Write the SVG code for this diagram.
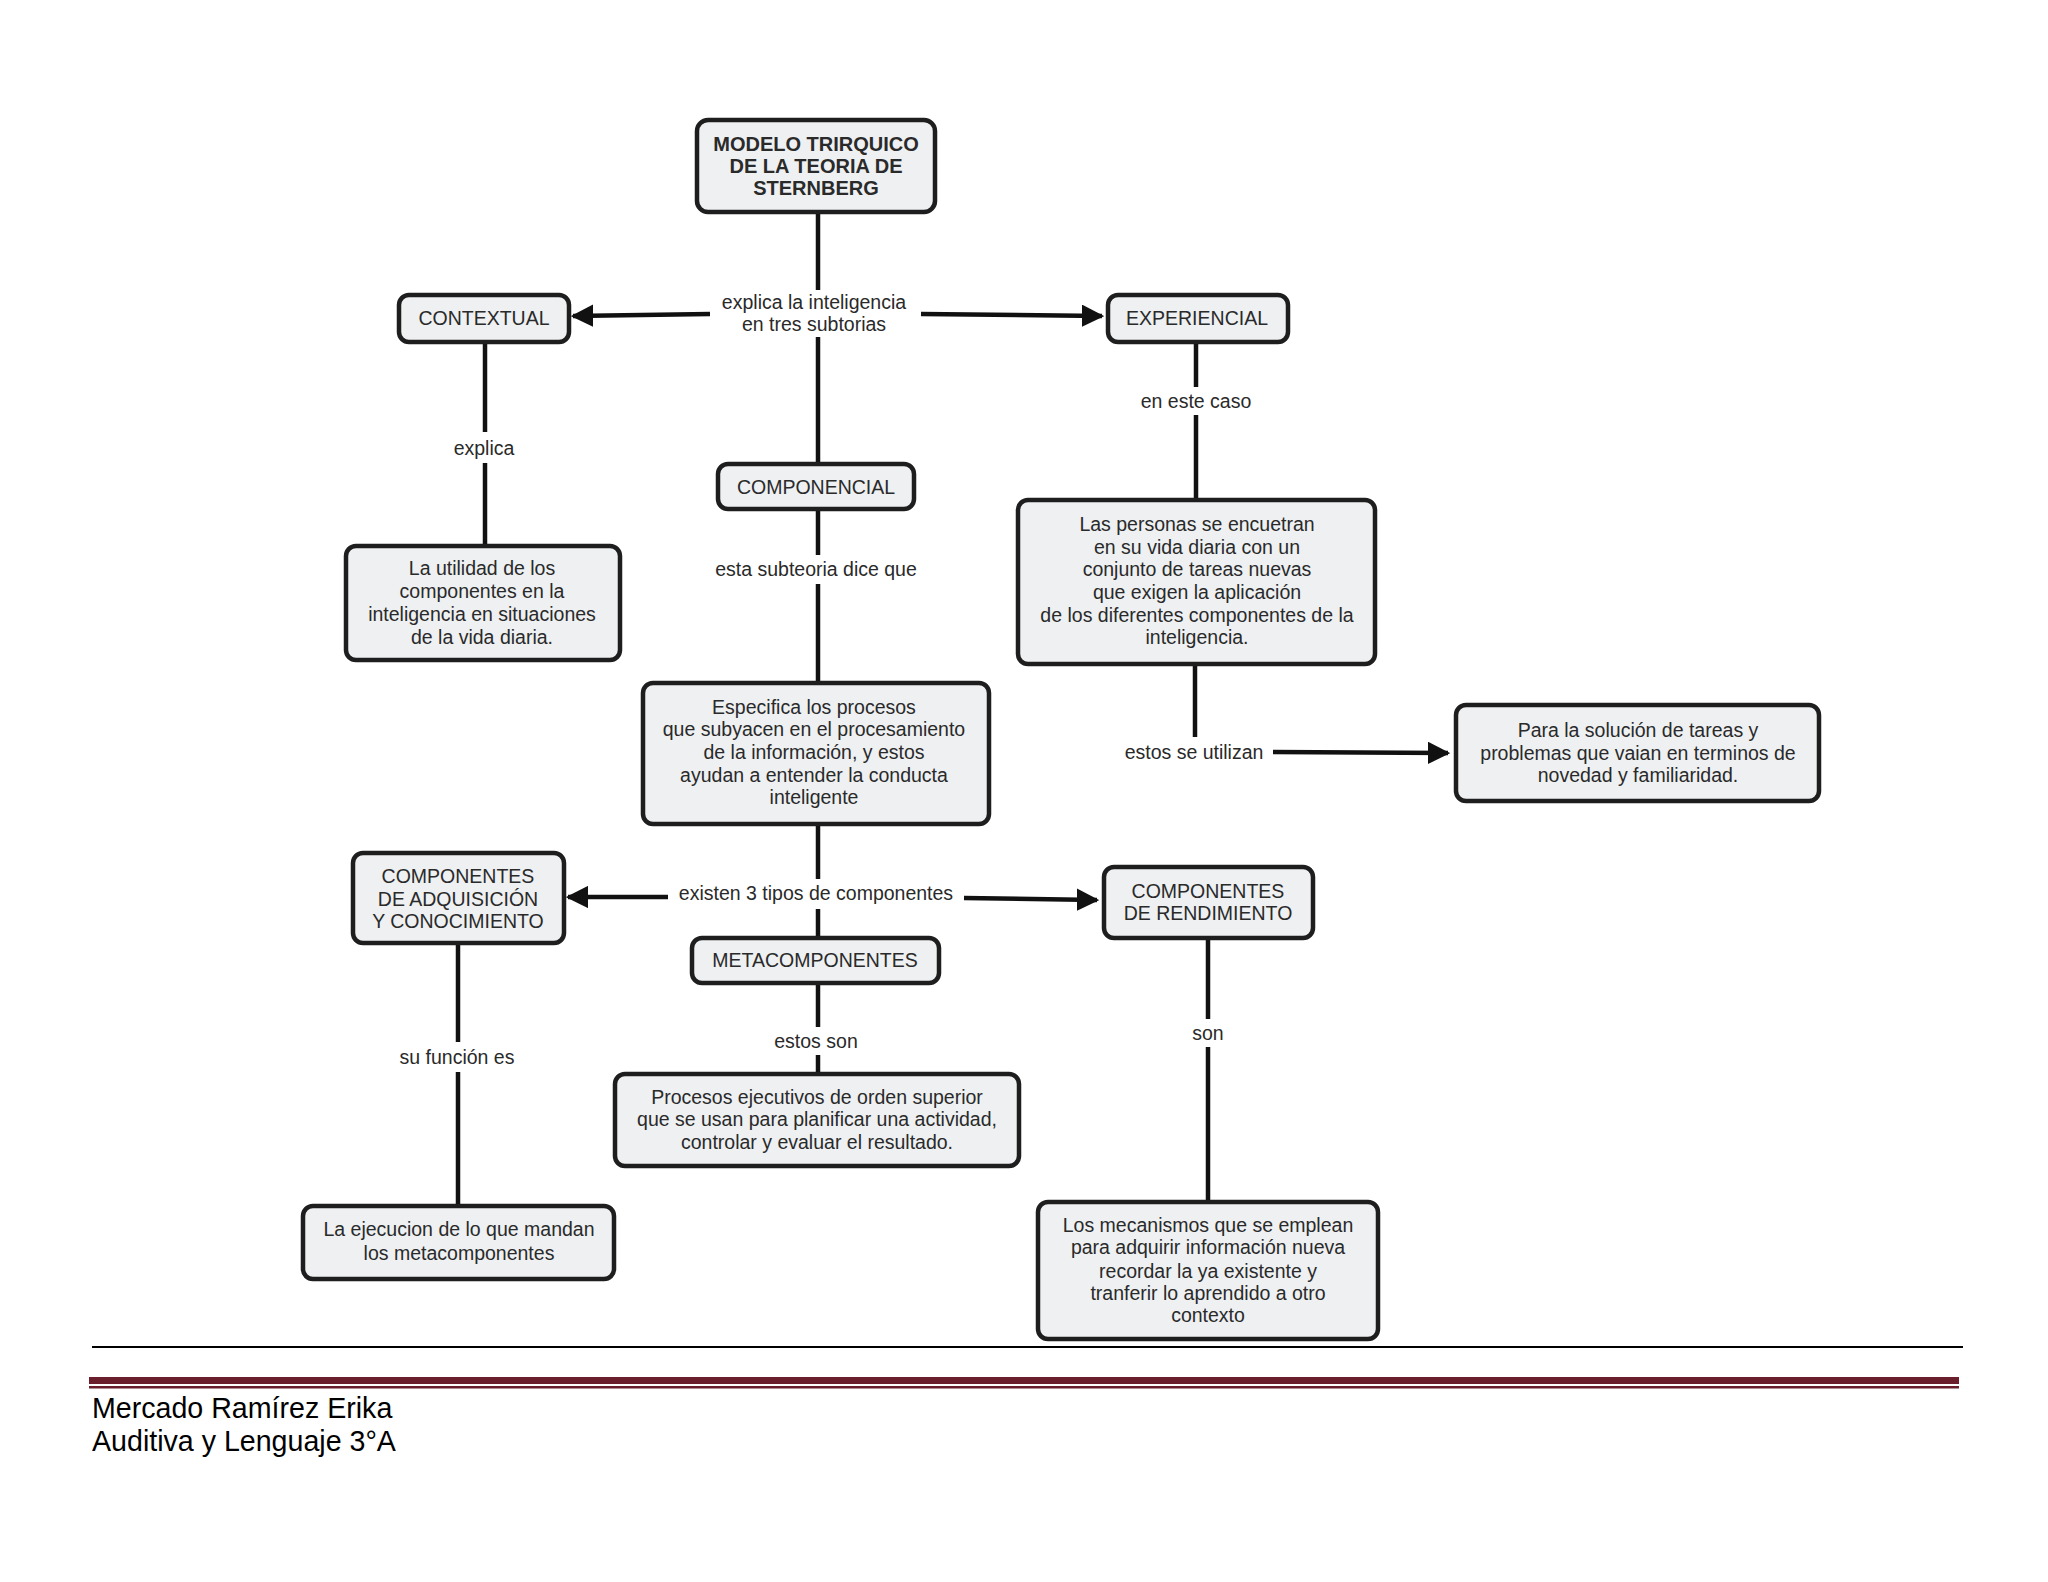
<svg xmlns="http://www.w3.org/2000/svg" width="2048" height="1582" viewBox="0 0 2048 1582">
<style>
.node rect{fill:#eef0f2;stroke:#1e1e1e;stroke-width:4.5}
.t{font-family:"Liberation Sans",Arial,sans-serif;font-size:19.5px;fill:#2a2a2a;text-anchor:middle}
.b{font-weight:bold;font-size:20px}
.c line,.c path{stroke:#111;stroke-width:4.5;fill:none}
.foot{font-family:"Liberation Sans",Arial,sans-serif;font-size:28.6px;fill:#000}
</style>
<defs>
<marker id="ah" viewBox="0 0 10 10" refX="9" refY="5" markerWidth="5" markerHeight="5" markerUnits="strokeWidth" orient="auto">
<path d="M0,0 L10,5 L0,10 z" fill="#111"/>
</marker>
</defs>
<rect width="2048" height="1582" fill="#fff"/>

<g class="c" id="connectors">
<line x1="818" y1="212" x2="818" y2="290"/>
<line x1="818" y1="337" x2="818" y2="464"/>
<line x1="710" y1="314" x2="573" y2="316" marker-end="url(#ah)"/>
<line x1="921" y1="314" x2="1102" y2="316" marker-end="url(#ah)"/>
<line x1="485" y1="342" x2="485" y2="432"/>
<line x1="485" y1="463" x2="485" y2="546"/>
<line x1="818" y1="509" x2="818" y2="555"/>
<line x1="818" y1="584" x2="818" y2="683"/>
<line x1="818" y1="824" x2="818" y2="879"/>
<line x1="818" y1="909" x2="818" y2="938"/>
<line x1="668" y1="897" x2="568" y2="897" marker-end="url(#ah)"/>
<line x1="964" y1="898" x2="1097" y2="900" marker-end="url(#ah)"/>
<line x1="818" y1="983" x2="818" y2="1027"/>
<line x1="818" y1="1055" x2="818" y2="1074"/>
<line x1="458" y1="943" x2="458" y2="1042"/>
<line x1="458" y1="1072" x2="458" y2="1206"/>
<line x1="1208" y1="938" x2="1208" y2="1019"/>
<line x1="1208" y1="1047" x2="1208" y2="1202"/>
<line x1="1196" y1="342" x2="1196" y2="387"/>
<line x1="1196" y1="415" x2="1196" y2="500"/>
<line x1="1195" y1="664" x2="1195" y2="737"/>
<line x1="1273" y1="752" x2="1448" y2="753" marker-end="url(#ah)"/>
</g>

<g id="link-labels" class="t">
<text x="814" y="309">explica la inteligencia</text>
<text x="814" y="331">en tres subtorias</text>
<text x="484" y="455">explica</text>
<text x="816" y="576">esta subteoria dice que</text>
<text x="816" y="900">existen 3 tipos de componentes</text>
<text x="816" y="1048">estos son</text>
<text x="457" y="1064">su función es</text>
<text x="1208" y="1040">son</text>
<text x="1196" y="408">en este caso</text>
<text x="1194" y="759">estos se utilizan</text>
</g>

<g id="root" class="node">
<rect x="697" y="120" width="238" height="92" rx="11"/>
<text class="t b" x="816" y="151">MODELO TRIRQUICO</text>
<text class="t b" x="816" y="173">DE LA TEORIA DE</text>
<text class="t b" x="816" y="195">STERNBERG</text>
</g>

<g id="contextual" class="node">
<rect x="399" y="295" width="170" height="47" rx="10"/>
<text class="t" x="484" y="325">CONTEXTUAL</text>
</g>

<g id="experiencial" class="node">
<rect x="1108" y="295" width="180" height="47" rx="10"/>
<text class="t" x="1197" y="325">EXPERIENCIAL</text>
</g>

<g id="componencial" class="node">
<rect x="718" y="464" width="196" height="45" rx="10"/>
<text class="t" x="816" y="494">COMPONENCIAL</text>
</g>

<g id="utilidad" class="node">
<rect x="346" y="546" width="274" height="114" rx="10"/>
<text class="t" x="482" y="575">La utilidad de los</text>
<text class="t" x="482" y="598">componentes en la</text>
<text class="t" x="482" y="621">inteligencia en situaciones</text>
<text class="t" x="482" y="644">de la vida diaria.</text>
</g>

<g id="personas" class="node">
<rect x="1018" y="500" width="357" height="164" rx="10"/>
<text class="t" x="1197" y="531">Las personas se encuetran</text>
<text class="t" x="1197" y="554">en su vida diaria con un</text>
<text class="t" x="1197" y="576">conjunto de tareas nuevas</text>
<text class="t" x="1197" y="599">que exigen la aplicación</text>
<text class="t" x="1197" y="622">de los diferentes componentes de la</text>
<text class="t" x="1197" y="644">inteligencia.</text>
</g>

<g id="especifica" class="node">
<rect x="643" y="683" width="346" height="141" rx="10"/>
<text class="t" x="814" y="714">Especifica los procesos</text>
<text class="t" x="814" y="736">que subyacen en el procesamiento</text>
<text class="t" x="814" y="759">de la información, y estos</text>
<text class="t" x="814" y="782">ayudan a entender la conducta</text>
<text class="t" x="814" y="804">inteligente</text>
</g>

<g id="solucion" class="node">
<rect x="1456" y="705" width="363" height="96" rx="10"/>
<text class="t" x="1638" y="737">Para la solución de tareas y</text>
<text class="t" x="1638" y="760">problemas que vaian en terminos de</text>
<text class="t" x="1638" y="782">novedad y familiaridad.</text>
</g>

<g id="adquisicion" class="node">
<rect x="353" y="853" width="211" height="90" rx="10"/>
<text class="t" x="458" y="883">COMPONENTES</text>
<text class="t" x="458" y="906">DE ADQUISICIÓN</text>
<text class="t" x="458" y="928">Y CONOCIMIENTO</text>
</g>

<g id="rendimiento" class="node">
<rect x="1104" y="867" width="209" height="71" rx="10"/>
<text class="t" x="1208" y="898">COMPONENTES</text>
<text class="t" x="1208" y="920">DE RENDIMIENTO</text>
</g>

<g id="metacomponentes" class="node">
<rect x="692" y="938" width="247" height="45" rx="10"/>
<text class="t" x="815" y="967">METACOMPONENTES</text>
</g>

<g id="procesos" class="node">
<rect x="615" y="1074" width="404" height="92" rx="10"/>
<text class="t" x="817" y="1104">Procesos ejecutivos de orden superior</text>
<text class="t" x="817" y="1126">que se usan para planificar una actividad,</text>
<text class="t" x="817" y="1149">controlar y evaluar el resultado.</text>
</g>

<g id="ejecucion" class="node">
<rect x="303" y="1206" width="311" height="73" rx="10"/>
<text class="t" x="459" y="1236">La ejecucion de lo que mandan</text>
<text class="t" x="459" y="1260">los metacomponentes</text>
</g>

<g id="mecanismos" class="node">
<rect x="1038" y="1202" width="340" height="137" rx="10"/>
<text class="t" x="1208" y="1232">Los mecanismos que se emplean</text>
<text class="t" x="1208" y="1254">para adquirir información nueva</text>
<text class="t" x="1208" y="1278">recordar la ya existente y</text>
<text class="t" x="1208" y="1300">tranferir lo aprendido a otro</text>
<text class="t" x="1208" y="1322">contexto</text>
</g>

<g id="footer">
<line x1="92" y1="1347" x2="1963" y2="1347" stroke="#000" stroke-width="2"/>
<rect x="89" y="1377" width="1870" height="7" fill="#6b1f2c"/>
<rect x="89" y="1386" width="1870" height="2.5" fill="#6b1f2c"/>
<text class="foot" x="92" y="1418">Mercado Ramírez Erika</text>
<text class="foot" x="92" y="1451">Auditiva y Lenguaje 3°A</text>
</g>
</svg>
